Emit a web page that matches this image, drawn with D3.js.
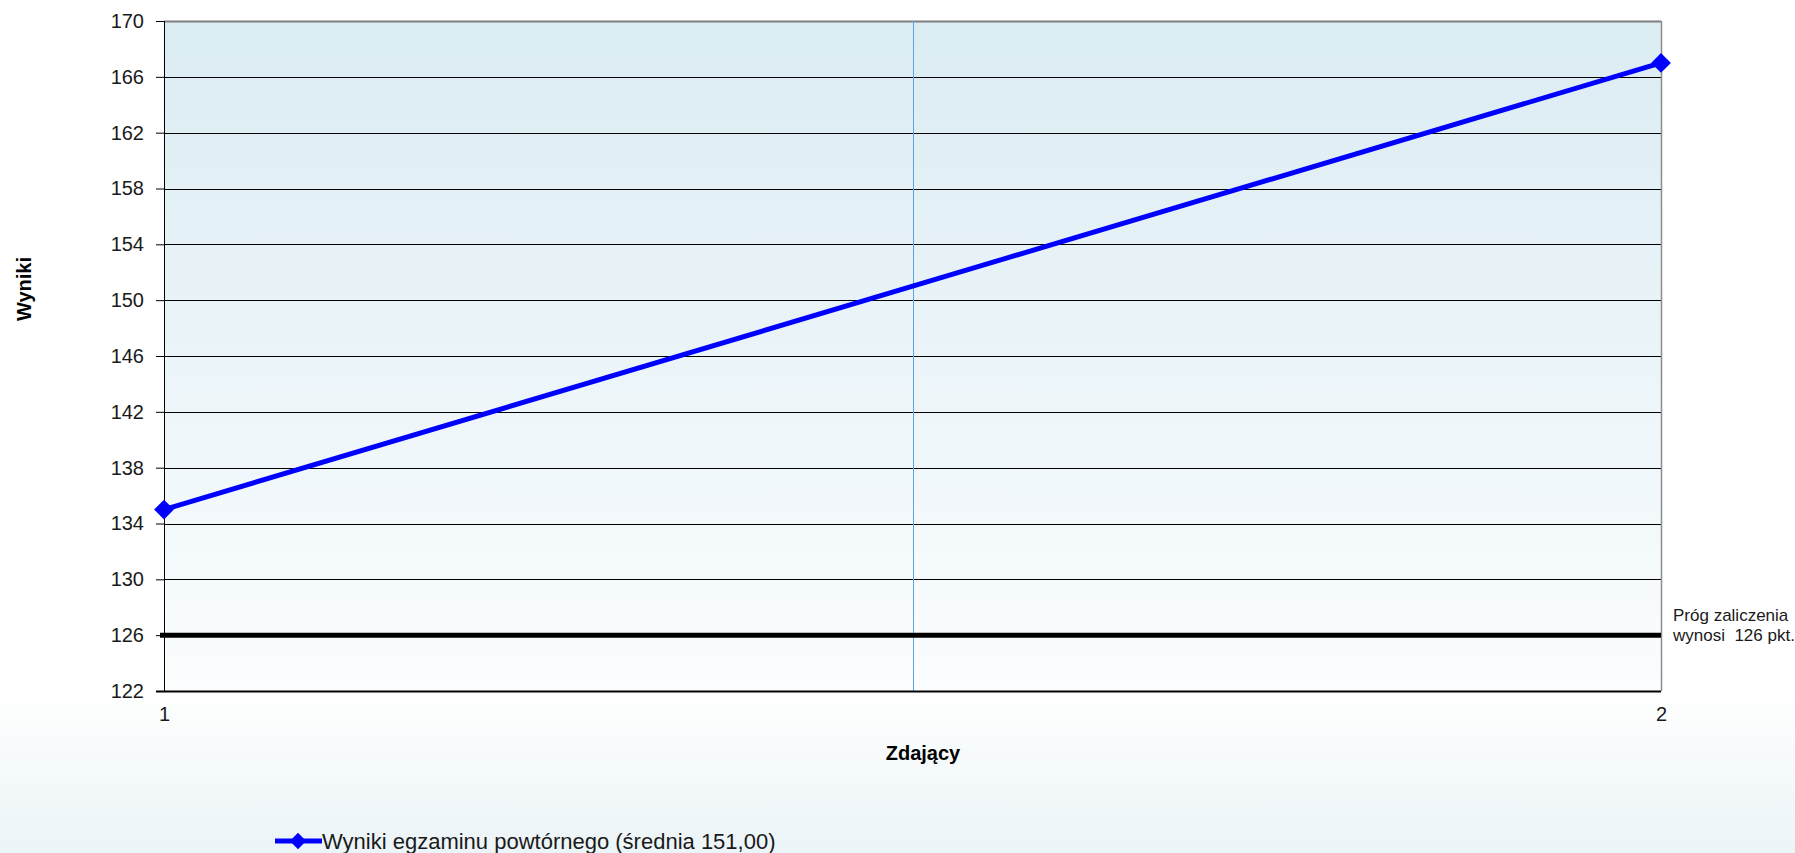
<!DOCTYPE html>
<html>
<head>
<meta charset="utf-8">
<script src="https://cdn.jsdelivr.net/npm/d3@7"></script>
<style>
  html, body { margin: 0; padding: 0; background: #fff; }
  svg { display: block; font-family: 'Liberation Sans', Arial, sans-serif; }
</style>
</head>
<body>
<div id="chart"></div>
<script>
// data
const categories = [1, 2];
const scores = [135, 167];
const yTicks = [122, 126, 130, 134, 138, 142, 146, 150, 154, 158, 162, 166, 170];
const passThreshold = 126;
const seriesName = 'Wyniki egzaminu powtórnego (średnia 151,00)';
const thresholdLines = ['Próg zaliczenia', 'wynosi  126 pkt.'];

const W = 1795, H = 853;
const margin = { top: 21, right: 134, bottom: 162, left: 164 };
const width = W - margin.left - margin.right;
const height = H - margin.top - margin.bottom;

const svg = d3.select('#chart').append('svg')
    .attr('width', W)
    .attr('height', H);

const defs = svg.append('defs');
const plotGrad = defs.append('linearGradient')
    .attr('id', 'plotGrad')
    .attr('x1', 0).attr('y1', 0).attr('x2', 0).attr('y2', 1);
plotGrad.append('stop').attr('offset', '0%').attr('stop-color', '#dbecf3');
plotGrad.append('stop').attr('offset', '100%').attr('stop-color', '#fbfdfe');

const pageGrad = defs.append('linearGradient')
    .attr('id', 'pageGrad')
    .attr('x1', 0).attr('y1', 0).attr('x2', 0).attr('y2', 1);
pageGrad.append('stop').attr('offset', '0%').attr('stop-color', '#ffffff');
pageGrad.append('stop').attr('offset', '100%').attr('stop-color', '#ebf4f7');

svg.append('rect')
    .attr('x', 0).attr('y', 690)
    .attr('width', W).attr('height', H - 690)
    .attr('fill', 'url(#pageGrad)');

const g = svg.append('g')
    .attr('transform', `translate(${margin.left},${margin.top})`);

const x = d3.scaleLinear()
    .domain(d3.extent(categories))
    .range([0, width]);

const y = d3.scaleLinear()
    .domain([yTicks[0], yTicks[yTicks.length - 1]])
    .range([height, 0]);

g.append('rect')
    .attr('width', width)
    .attr('height', height)
    .attr('fill', 'url(#plotGrad)');

// horizontal gridlines
g.selectAll('.grid')
    .data(yTicks.slice(1))
    .enter()
    .append('line')
    .attr('class', 'grid')
    .attr('x1', 0)
    .attr('x2', width)
    .attr('y1', d => Math.round(y(d)) + 0.5)
    .attr('y2', d => Math.round(y(d)) + 0.5)
    .style('stroke', (d, i) => i === yTicks.length - 2 ? '#7f7f7f' : '#000')
    .style('stroke-width', d => d === yTicks[yTicks.length - 1] ? '2px' : '1px');

// vertical middle gridline
g.append('line')
    .attr('x1', Math.round(x(1.5)) + 0.5)
    .attr('x2', Math.round(x(1.5)) + 0.5)
    .attr('y1', 0)
    .attr('y2', height)
    .style('stroke', '#5aa4e4')
    .style('stroke-width', '1px');

// right border
g.append('line')
    .attr('x1', width + 0.5).attr('x2', width + 0.5)
    .attr('y1', 0).attr('y2', height)
    .style('stroke', '#8c8c8c')
    .style('stroke-width', '1.5px');

// y axis
const yAxis = g.append('g')
    .call(d3.axisLeft(y).tickValues(yTicks).tickSize(8).tickPadding(12).tickFormat(d3.format('d')));
yAxis.select('.domain').remove();
yAxis.selectAll('line').style('stroke', '#000');
yAxis.selectAll('text')
    .style('font-size', '20px')
    .style('fill', '#1a1a1a');
g.append('line')
    .attr('x1', 0.5).attr('x2', 0.5)
    .attr('y1', 0).attr('y2', height)
    .style('stroke', '#000');

// x axis
const xAxis = g.append('g')
    .attr('transform', `translate(0,${height})`)
    .call(d3.axisBottom(x).tickValues(categories).tickSize(0).tickPadding(16).tickFormat(d3.format('d')));
xAxis.select('.domain').remove();
xAxis.selectAll('text')
    .style('font-size', '20px')
    .style('fill', '#1a1a1a');
g.append('line')
    .attr('x1', -8).attr('x2', width)
    .attr('y1', height + 0.5).attr('y2', height + 0.5)
    .style('stroke', '#000')
    .style('stroke-width', '2px');

// pass threshold
g.append('line')
    .attr('x1', -4)
    .attr('x2', width)
    .attr('y1', y(passThreshold))
    .attr('y2', y(passThreshold))
    .style('stroke', '#000')
    .style('stroke-width', '5px');

g.selectAll('.threshold-label')
    .data(thresholdLines)
    .enter()
    .append('text')
    .attr('class', 'threshold-label')
    .attr('x', width + 12)
    .attr('y', (d, i) => y(passThreshold) - 14 + i * 20)
    .style('font-size', '17px')
    .style('fill', '#1a1a1a')
    .style('white-space', 'pre')
    .text(d => d);

// series
const points = categories.map((c, i) => ({ c, v: scores[i] }));
const line = d3.line()
    .x(d => x(d.c))
    .y(d => y(d.v));

g.append('path')
    .datum(points)
    .attr('d', line)
    .attr('fill', 'none')
    .style('stroke', '#0000ff')
    .style('stroke-width', '5px');

const diamond = d3.symbol().type(d3.symbolDiamond2).size(250);
g.selectAll('.marker')
    .data(points)
    .enter()
    .append('path')
    .attr('class', 'marker')
    .attr('d', diamond)
    .attr('transform', d => `translate(${x(d.c)},${y(d.v)})`)
    .attr('fill', '#0000ff');

// axis titles
svg.append('text')
    .attr('x', 923)
    .attr('y', 760)
    .attr('text-anchor', 'middle')
    .style('font-size', '20px')
    .style('font-weight', 'bold')
    .text('Zdający');

svg.append('text')
    .attr('transform', 'translate(31,289) rotate(-90)')
    .attr('text-anchor', 'middle')
    .style('font-size', '20px')
    .style('font-weight', 'bold')
    .text('Wyniki');

// legend
const legend = svg.append('g').attr('transform', 'translate(275,841)');
legend.append('line')
    .attr('x1', 0).attr('x2', 47)
    .attr('y1', 0).attr('y2', 0)
    .style('stroke', '#0000ff')
    .style('stroke-width', '5px');
legend.append('path')
    .attr('d', d3.symbol().type(d3.symbolDiamond2).size(170))
    .attr('transform', 'translate(23,0)')
    .attr('fill', '#0000ff');
legend.append('text')
    .attr('x', 47)
    .attr('y', 8)
    .style('font-size', '22px')
    .style('fill', '#1a1a1a')
    .text(seriesName);
</script>
</body>
</html>
